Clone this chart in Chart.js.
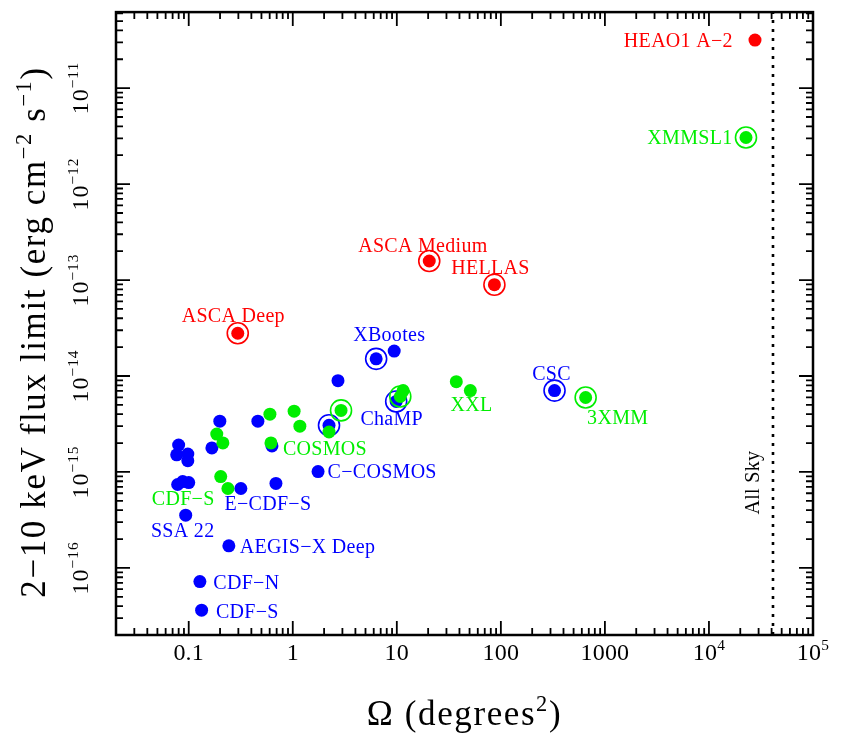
<!DOCTYPE html>
<html>
<head>
<meta charset="utf-8">
<script src="https://cdn.jsdelivr.net/npm/chart.js@4"></script>
<style>
html, body { margin: 0; padding: 0; background: #fff; }
</style>
</head>
<body>
<canvas id="surveyChart" width="844" height="735"></canvas>
<script>
// survey area (deg^2) and 2-10 keV flux limit
const bluePlainX = [0.080, 0.0766, 0.098, 0.098, 0.0783, 0.0875, 0.100, 0.167, 0.199, 0.462, 0.317, 0.689, 0.631, 1.75, 0.0935, 0.243, 0.128, 0.133, 2.72, 9.44];
const bluePlainY = [1.91e-15, 1.51e-15, 1.54e-15, 1.31e-15, 7.4e-16, 7.95e-16, 7.76e-16, 1.78e-15, 3.38e-15, 3.38e-15, 6.73e-16, 7.6e-16, 1.87e-15, 1.01e-15, 3.55e-16, 1.70e-16, 7.2e-17, 3.63e-17, 8.95e-15, 1.82e-14];
const blueRingX = [6.33, 9.86, 2.23, 328];
const blueRingY = [1.51e-14, 5.43e-15, 3.07e-15, 7.05e-15];

const greenPlainX = [0.603, 1.03, 1.17, 0.617, 2.23, 0.186, 0.213, 0.203, 0.238, 37.3, 50.9, 11.5];
const greenPlainY = [4.0e-15, 4.3e-15, 3.0e-15, 2.01e-15, 2.61e-15, 2.48e-15, 2.01e-15, 8.95e-16, 6.73e-16, 8.73e-15, 7.05e-15, 7.05e-15];
const greenRingX = [22700, 653, 2.91, 10.8];
const greenRingY = [3.06e-12, 5.97e-15, 4.38e-15, 6.12e-15];

const redPlainX = [27700];
const redPlainY = [3.17e-11];
const redRingX = [20.5, 86.7, 0.296];
const redRingY = [1.58e-13, 8.95e-14, 2.79e-14];

const allSky = 41253;

// survey names
const labelNames = ['HEAO1 A−2', 'XMMSL1', 'ASCA Medium', 'HELLAS', 'ASCA Deep', 'XBootes', 'CSC', 'XXL', '3XMM', 'ChaMP',
  'COSMOS', 'C−COSMOS', 'CDF−S', 'E−CDF−S', 'SSA 22', 'AEGIS−X Deep', 'CDF−N', 'CDF−S'];
const labelX = [5080, 6560, 17.8, 79.4, 0.268, 8.45, 307, 52.1, 1327, 8.93, 2.04, 7.23, 0.0885, 0.577, 0.0875, 1.386, 0.358, 0.366];
const labelY = [3.15e-11, 3.06e-12, 2.31e-13, 1.37e-13, 4.28e-14, 2.73e-14, 1.06e-14, 5.06e-15, 3.72e-15, 3.63e-15, 1.78e-15, 1.01e-15, 5.31e-16, 4.71e-16, 2.48e-16, 1.66e-16, 7.05e-17, 3.54e-17];
const labelGroup = ['red', 'green', 'red', 'red', 'red', 'blue', 'blue', 'green', 'green', 'blue', 'green', 'blue', 'green', 'blue', 'blue', 'blue', 'blue', 'blue'];

const xTickValues = [0.1, 1, 10, 100, 1000, 1e4, 1e5];
const xTickLabels = ['0.1', '1', '10', '100', '1000', '10^4', '10^5'];
const yTickValues = [1e-16, 1e-15, 1e-14, 1e-13, 1e-12, 1e-11];
const yTickLabels = ['10^−16', '10^−15', '10^−14', '10^−13', '10^−12', '10^−11'];

const colors = { red: '#ff0000', green: '#00ee00', blue: '#0000ff' };
const FONT = '"Liberation Serif", "Times New Roman", serif';

function pts(xs, ys) {
    return xs.map((x, i) => ({ x: x, y: ys[i] }));
}

function dots(xs, ys, c) {
    return { type: 'scatter', data: pts(xs, ys), backgroundColor: c, borderWidth: 0, pointRadius: 6.5, pointHoverRadius: 6.5 };
}

function rings(xs, ys, c) {
    return { type: 'scatter', data: pts(xs, ys), backgroundColor: 'rgba(0,0,0,0)', borderColor: c, borderWidth: 1.6, pointRadius: 10.5, pointHoverRadius: 10.5 };
}

// "10^−11" -> [['10', false], ['−11', true]]
function parseSup(s) {
    const i = s.indexOf('^');
    if (i < 0) return [[s, false]];
    return [[s.slice(0, i), false], [s.slice(i + 1), true]];
}

function drawRich(ctx, parts, x, y, size, spacing) {
    const sup = size * 0.64;
    ctx.letterSpacing = (spacing || 0) + 'px';
    let w = 0;
    parts.forEach(p => {
        ctx.font = (p[1] ? sup : size) + 'px ' + FONT;
        w += ctx.measureText(p[0]).width;
    });
    let cx = x - w / 2;
    const base = y + size * 0.33;
    ctx.textAlign = 'left';
    ctx.textBaseline = 'alphabetic';
    parts.forEach(p => {
        ctx.font = (p[1] ? sup : size) + 'px ' + FONT;
        ctx.fillText(p[0], cx, p[1] ? base - size * 0.4 : base);
        cx += ctx.measureText(p[0]).width;
    });
    ctx.letterSpacing = '0px';
}

const framePlugin = {
    id: 'frame',
    afterDraw(chart) {
        const ctx = chart.ctx;
        const xs = chart.scales.x, ys = chart.scales.y;
        const a = chart.chartArea;
        ctx.save();
        ctx.strokeStyle = '#000';
        ctx.fillStyle = '#000';

        // inward ticks on all four sides
        ctx.lineWidth = 1.8;
        for (let e = -2; e <= 5; e++) {
            for (let k = 1; k <= 9; k++) {
                const v = k * Math.pow(10, e);
                if (v < xs.min || v > xs.max) continue;
                const px = xs.getPixelForValue(v);
                const len = k === 1 ? 14 : 7;
                ctx.beginPath();
                ctx.moveTo(px, a.bottom); ctx.lineTo(px, a.bottom - len);
                ctx.moveTo(px, a.top); ctx.lineTo(px, a.top + len);
                ctx.stroke();
            }
        }
        for (let e = -17; e <= -10; e++) {
            for (let k = 1; k <= 9; k++) {
                const v = k * Math.pow(10, e);
                if (v < ys.min || v > ys.max) continue;
                const py = ys.getPixelForValue(v);
                const len = k === 1 ? 14 : 7;
                ctx.beginPath();
                ctx.moveTo(a.left, py); ctx.lineTo(a.left + len, py);
                ctx.moveTo(a.right, py); ctx.lineTo(a.right - len, py);
                ctx.stroke();
            }
        }

        ctx.lineWidth = 2.5;
        ctx.strokeRect(a.left, a.top, a.right - a.left, a.bottom - a.top);

        // tick labels
        xTickValues.forEach((v, i) => {
            drawRich(ctx, parseSup(xTickLabels[i]), xs.getPixelForValue(v), 652, 24, 0.2);
        });
        yTickValues.forEach((v, i) => {
            ctx.save();
            ctx.translate(80, ys.getPixelForValue(v));
            ctx.rotate(-Math.PI / 2);
            drawRich(ctx, parseSup(yTickLabels[i]), 0, 0, 24, 1);
            ctx.restore();
        });

        // axis titles
        drawRich(ctx, [['Ω (degrees', false], ['2', true], [')', false]], (a.left + a.right) / 2, 713, 35, 1.6);
        ctx.save();
        ctx.translate(33, 332);
        ctx.rotate(-Math.PI / 2);
        drawRich(ctx, [['2−10 keV flux limit (erg cm', false], ['−2', true], [' s', false], ['−1', true], [')', false]], 0, 0, 35, 1.6);
        ctx.restore();

        // survey names
        labelNames.forEach((t, i) => {
            ctx.fillStyle = colors[labelGroup[i]];
            drawRich(ctx, [[t, false]], xs.getPixelForValue(labelX[i]), ys.getPixelForValue(labelY[i]), 20, 0.3);
        });

        // all-sky marker text
        ctx.fillStyle = '#000';
        ctx.save();
        ctx.translate(xs.getPixelForValue(25900), ys.getPixelForValue(7.74e-16));
        ctx.rotate(-Math.PI / 2);
        drawRich(ctx, [['All Sky', false]], 0, 0, 20, 0.3);
        ctx.restore();

        ctx.restore();
    }
};

const ctx = document.getElementById('surveyChart').getContext('2d');

new Chart(ctx, {
    data: {
        datasets: [
            dots(redPlainX, redPlainY, colors.red),
            dots(redRingX, redRingY, colors.red),
            rings(redRingX, redRingY, colors.red),
            dots(greenPlainX, greenPlainY, colors.green),
            dots(greenRingX, greenRingY, colors.green),
            rings(greenRingX, greenRingY, colors.green),
            dots(bluePlainX, bluePlainY, colors.blue),
            dots(blueRingX, blueRingY, colors.blue),
            rings(blueRingX, blueRingY, colors.blue),
            {
                type: 'line',
                data: [{ x: allSky, y: 2e-17 }, { x: allSky, y: 6.2e-11 }],
                borderColor: '#000',
                borderWidth: 2.6,
                borderDash: [3, 6],
                pointRadius: 0,
                fill: false
            }
        ]
    },
    options: {
        responsive: false,
        animation: false,
        devicePixelRatio: 1,
        layout: { padding: { top: 6, right: 31, left: 0, bottom: 0 } },
        plugins: { legend: { display: false }, tooltip: { enabled: false } },
        scales: {
            x: {
                type: 'logarithmic',
                min: 0.02,
                max: 1e5,
                grid: { display: false },
                border: { display: false },
                ticks: { display: false },
                afterFit: s => { s.height = 100; }
            },
            y: {
                type: 'logarithmic',
                min: 2e-17,
                max: 6.2e-11,
                grid: { display: false },
                border: { display: false },
                ticks: { display: false },
                afterFit: s => { s.width = 116; }
            }
        }
    },
    plugins: [framePlugin]
});
</script>
</body>
</html>
